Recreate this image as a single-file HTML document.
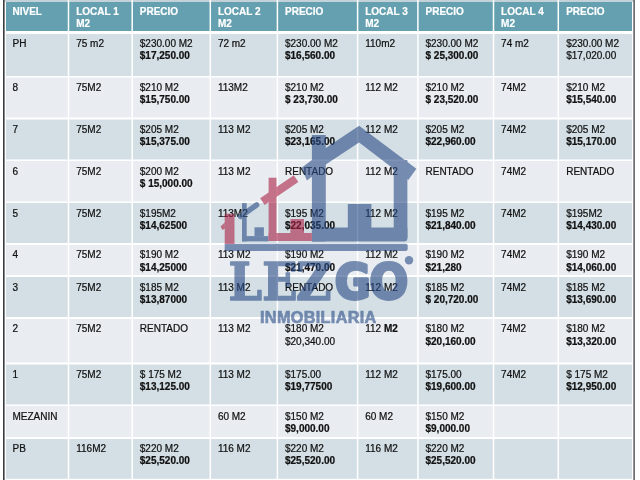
<!DOCTYPE html>
<html><head><meta charset="utf-8"><title>Precios</title>
<style>
html,body{margin:0;padding:0;background:#fff;}
body{width:640px;height:480px;position:relative;overflow:hidden;font-family:"Liberation Sans",Arial,sans-serif;}
.grid,.logo{position:absolute;left:0;top:0;}
.logo{opacity:0.6;}
#w{position:absolute;left:0;top:0;width:640px;height:480px;filter:blur(0.35px);}
.c,.h{position:absolute;font-size:10px;line-height:12.4px;white-space:nowrap;color:#111;}
.c{-webkit-text-stroke:0.22px #111;}
.h{color:#fff;font-weight:bold;-webkit-text-stroke:0.2px #fff;}
</style></head><body><div id="w">
<svg class="grid" width="640" height="480" viewBox="0 0 640 480">
<rect x="4.6" y="0" width="629.1" height="2" fill="#c3d2d8"/>
<rect x="6" y="2" width="626" height="29" fill="rgb(101,160,176)"/>
<rect x="6" y="34" width="626" height="42" fill="#d4dfe5"/>
<rect x="6" y="77.5" width="626" height="40" fill="#e9edf1"/>
<rect x="6" y="119.5" width="626" height="40" fill="#d4dfe5"/>
<rect x="6" y="161" width="626" height="40.5" fill="#e9edf1"/>
<rect x="6" y="203" width="626" height="40" fill="#d4dfe5"/>
<rect x="6" y="245" width="626" height="30" fill="#e9edf1"/>
<rect x="6" y="277" width="626" height="40" fill="#d4dfe5"/>
<rect x="6" y="319" width="626" height="43.5" fill="#e9edf1"/>
<rect x="6" y="364.5" width="626" height="40" fill="#d4dfe5"/>
<rect x="6" y="406" width="626" height="31" fill="#e9edf1"/>
<rect x="6" y="439" width="626" height="39.8" fill="#d4dfe5"/>
<rect x="67.75" y="0" width="1.5" height="480" fill="#fff"/>
<rect x="131.45" y="0" width="1.5" height="480" fill="#fff"/>
<rect x="209.55" y="0" width="1.5" height="480" fill="#fff"/>
<rect x="276.65" y="0" width="1.5" height="480" fill="#fff"/>
<rect x="356.85" y="0" width="1.5" height="480" fill="#fff"/>
<rect x="417.15" y="0" width="1.5" height="480" fill="#fff"/>
<rect x="492.75" y="0" width="1.5" height="480" fill="#fff"/>
<rect x="557.55" y="0" width="1.5" height="480" fill="#fff"/>
<rect x="3" y="0" width="1.6" height="480" fill="#3a3d40"/>
<rect x="633.4" y="0" width="1.4" height="480" fill="#4a4d52"/>
</svg>
<div class="h" style="left:12.5px;top:5.7px">NIVEL</div>
<div class="h" style="left:76.2px;top:5.7px">LOCAL 1<br>M2</div>
<div class="h" style="left:139.8px;top:5.7px">PRECIO</div>
<div class="h" style="left:217.9px;top:5.7px">LOCAL 2<br>M2</div>
<div class="h" style="left:285px;top:5.7px">PRECIO</div>
<div class="h" style="left:365.2px;top:5.7px">LOCAL 3<br>M2</div>
<div class="h" style="left:425.5px;top:5.7px">PRECIO</div>
<div class="h" style="left:501.1px;top:5.7px">LOCAL 4<br>M2</div>
<div class="h" style="left:566.2px;top:5.7px">PRECIO</div>
<div class="c" style="left:12.5px;top:37.7px">PH</div>
<div class="c" style="left:76.2px;top:37.7px">75 m2</div>
<div class="c" style="left:139.8px;top:37.7px">$230.00 M2<br><b>$17,250.00</b></div>
<div class="c" style="left:217.9px;top:37.7px">72 m2</div>
<div class="c" style="left:285px;top:37.7px">$230.00 M2<br><b>$16,560.00</b></div>
<div class="c" style="left:365.2px;top:37.7px">110m2</div>
<div class="c" style="left:425.5px;top:37.7px">$230.00 M2<br><b>$ 25,300.00</b></div>
<div class="c" style="left:501.1px;top:37.7px">74 m2</div>
<div class="c" style="left:566.2px;top:37.7px">$230.00 M2<br>$17,020.00</div>
<div class="c" style="left:12.5px;top:82px">8</div>
<div class="c" style="left:76.2px;top:82px">75M2</div>
<div class="c" style="left:139.8px;top:82px">$210 M2<br><b>$15,750.00</b></div>
<div class="c" style="left:217.9px;top:82px">113M2</div>
<div class="c" style="left:285px;top:82px">$210 M2<br><b>$ 23,730.00</b></div>
<div class="c" style="left:365.2px;top:82px">112 M2</div>
<div class="c" style="left:425.5px;top:82px">$210 M2<br><b>$ 23,520.00</b></div>
<div class="c" style="left:501.1px;top:82px">74M2</div>
<div class="c" style="left:566.2px;top:82px">$210 M2<br><b>$15,540.00</b></div>
<div class="c" style="left:12.5px;top:123.8px">7</div>
<div class="c" style="left:76.2px;top:123.8px">75M2</div>
<div class="c" style="left:139.8px;top:123.8px">$205 M2<br><b>$15,375.00</b></div>
<div class="c" style="left:217.9px;top:123.8px">113 M2</div>
<div class="c" style="left:285px;top:123.8px">$205 M2<br><b>$23,165.00</b></div>
<div class="c" style="left:365.2px;top:123.8px">112 M2</div>
<div class="c" style="left:425.5px;top:123.8px">$205 M2<br><b>$22,960.00</b></div>
<div class="c" style="left:501.1px;top:123.8px">74M2</div>
<div class="c" style="left:566.2px;top:123.8px">$205 M2<br><b>$15,170.00</b></div>
<div class="c" style="left:12.5px;top:165.8px">6</div>
<div class="c" style="left:76.2px;top:165.8px">75M2</div>
<div class="c" style="left:139.8px;top:165.8px">$200 M2<br><b>$ 15,000.00</b></div>
<div class="c" style="left:217.9px;top:165.8px">113 M2</div>
<div class="c" style="left:285px;top:165.8px">RENTADO</div>
<div class="c" style="left:365.2px;top:165.8px">112 M2</div>
<div class="c" style="left:425.5px;top:165.8px">RENTADO</div>
<div class="c" style="left:501.1px;top:165.8px">74M2</div>
<div class="c" style="left:566.2px;top:165.8px">RENTADO</div>
<div class="c" style="left:12.5px;top:207.8px">5</div>
<div class="c" style="left:76.2px;top:207.8px">75M2</div>
<div class="c" style="left:139.8px;top:207.8px">$195M2<br><b>$14,62500</b></div>
<div class="c" style="left:217.9px;top:207.8px">113M2</div>
<div class="c" style="left:285px;top:207.8px">$195 M2<br><b>$22,035.00</b></div>
<div class="c" style="left:365.2px;top:207.8px">112 M2</div>
<div class="c" style="left:425.5px;top:207.8px">$195 M2<br><b>$21,840.00</b></div>
<div class="c" style="left:501.1px;top:207.8px">74M2</div>
<div class="c" style="left:566.2px;top:207.8px">$195M2<br><b>$14,430.00</b></div>
<div class="c" style="left:12.5px;top:249.2px">4</div>
<div class="c" style="left:76.2px;top:249.2px">75M2</div>
<div class="c" style="left:139.8px;top:249.2px">$190 M2<br><b>$14,25000</b></div>
<div class="c" style="left:217.9px;top:249.2px">113 M2</div>
<div class="c" style="left:285px;top:249.2px">$190 M2<br><b>$21,470.00</b></div>
<div class="c" style="left:365.2px;top:249.2px">112 M2</div>
<div class="c" style="left:425.5px;top:249.2px">$190 M2<br><b>$21,280</b></div>
<div class="c" style="left:501.1px;top:249.2px">74M2</div>
<div class="c" style="left:566.2px;top:249.2px">$190 M2<br><b>$14,060.00</b></div>
<div class="c" style="left:12.5px;top:282px">3</div>
<div class="c" style="left:76.2px;top:282px">75M2</div>
<div class="c" style="left:139.8px;top:282px">$185 M2<br><b>$13,87000</b></div>
<div class="c" style="left:217.9px;top:282px">113 M2</div>
<div class="c" style="left:285px;top:282px">RENTADO</div>
<div class="c" style="left:365.2px;top:282px">112 M2</div>
<div class="c" style="left:425.5px;top:282px">$185 M2<br><b>$ 20,720.00</b></div>
<div class="c" style="left:501.1px;top:282px">74M2</div>
<div class="c" style="left:566.2px;top:282px">$185 M2<br><b>$13,690.00</b></div>
<div class="c" style="left:12.5px;top:323.2px">2</div>
<div class="c" style="left:76.2px;top:323.2px">75M2</div>
<div class="c" style="left:139.8px;top:323.2px">RENTADO</div>
<div class="c" style="left:217.9px;top:323.2px">113 M2</div>
<div class="c" style="left:285px;top:323.2px">$180 M2<br>$20,340.00</div>
<div class="c" style="left:365.2px;top:323.2px">112 <b>M2</b></div>
<div class="c" style="left:425.5px;top:323.2px">$180 M2<br><b>$20,160.00</b></div>
<div class="c" style="left:501.1px;top:323.2px">74M2</div>
<div class="c" style="left:566.2px;top:323.2px">$180 M2<br><b>$13,320.00</b></div>
<div class="c" style="left:12.5px;top:368.5px">1</div>
<div class="c" style="left:76.2px;top:368.5px">75M2</div>
<div class="c" style="left:139.8px;top:368.5px">$ 175 M2<br><b>$13,125.00</b></div>
<div class="c" style="left:217.9px;top:368.5px">113 M2</div>
<div class="c" style="left:285px;top:368.5px">$175.00<br><b>$19,77500</b></div>
<div class="c" style="left:365.2px;top:368.5px">112 M2</div>
<div class="c" style="left:425.5px;top:368.5px">$175.00<br><b>$19,600.00</b></div>
<div class="c" style="left:501.1px;top:368.5px">74M2</div>
<div class="c" style="left:566.2px;top:368.5px">$ 175 M2<br><b>$12,950.00</b></div>
<div class="c" style="left:12.5px;top:410.9px">MEZANIN</div>
<div class="c" style="left:217.9px;top:410.9px">60 M2</div>
<div class="c" style="left:285px;top:410.9px">$150 M2<br><b>$9,000.00</b></div>
<div class="c" style="left:365.2px;top:410.9px">60 M2</div>
<div class="c" style="left:425.5px;top:410.9px">$150 M2<br><b>$9,000.00</b></div>
<div class="c" style="left:12.5px;top:442.9px">PB</div>
<div class="c" style="left:76.2px;top:442.9px">116M2</div>
<div class="c" style="left:139.8px;top:442.9px">$220 M2<br><b>$25,520.00</b></div>
<div class="c" style="left:217.9px;top:442.9px">116 M2</div>
<div class="c" style="left:285px;top:442.9px">$220 M2<br><b>$25,520.00</b></div>
<div class="c" style="left:365.2px;top:442.9px">116 M2</div>
<div class="c" style="left:425.5px;top:442.9px">$220 M2<br><b>$25,520.00</b></div>
<svg class="logo" width="640" height="480" viewBox="0 0 640 480">
<g fill="rgb(41,75,133)">
 <path d="M359.1 125.8 L416.4 168.7 L408.3 179.9 L359.1 142.5 L325.8 164.6 L312.2 176.6 L306.9 180.6 L301.6 167.8 L311.6 160.3 L325.8 147.9 Z"/>
 <rect x="311.9" y="135" width="13.9" height="106.5"/>
 <rect x="393.7" y="160" width="13.7" height="78"/>
 <path d="M311.9 227.5 H407.4 V238.3 Q407.4 241.5 404.2 241.5 H311.9 Z"/>
 <rect x="347.8" y="204" width="23.6" height="24"/>
 <!-- small blue house -->
 <path d="M240.6 216.4 L256.6 204.9" fill="none" stroke="rgb(41,75,133)" stroke-width="5.6" stroke-linecap="round"/>
 <rect x="242" y="203.1" width="4.7" height="38.3"/>
 <rect x="242" y="236.1" width="26.6" height="5.3"/>
 <rect x="254.5" y="227.3" width="9.4" height="9"/>
 <!-- ground bar -->
 <path d="M224.7 243.8 H405.7 Q407.7 243.8 407.7 245.8 V249 Q407.7 251 405.7 251 H224.7 Z"/>
 <circle cx="409" cy="260.3" r="4.2"/>
</g>
<g fill="rgb(172,34,70)">
 <path d="M262.4 201.6 L296.1 178.6" fill="none" stroke="rgb(172,34,70)" stroke-width="8"/>
 <rect x="268.6" y="177.7" width="7.9" height="63.3"/>
 <rect x="268.6" y="233" width="43.3" height="8"/>
 <rect x="290.4" y="219" width="13.6" height="14.2"/>
 <rect x="224.7" y="213.7" width="9.8" height="30.3"/>
 <path d="M224.9 222.3 L220.6 226.6 L222.3 230 L224.9 228.8 Z"/>
</g>
<g fill="rgb(41,75,133)" font-family="DejaVu Serif Condensed, DejaVu Serif, serif" font-weight="bold" font-size="53" stroke="rgb(41,75,133)" stroke-width="1.5" stroke-linejoin="round">
 <text transform="translate(228.5 300) scale(1 1)">L</text>
 <text transform="translate(262.3 300) scale(0.97 1)">E</text>
 <text transform="translate(296 300) scale(1.02 1)">Z</text>
</g>
<g fill="rgb(41,75,133)" font-family="DejaVu Sans Condensed, DejaVu Sans, sans-serif" font-weight="bold" font-size="50.6" stroke="rgb(41,75,133)" stroke-width="3" stroke-linejoin="round">
 <text transform="translate(334.8 299.2) scale(0.96 1)">G</text>
 <text transform="translate(369.5 299.2)">O</text>
</g>
<text x="260" y="323" fill="rgb(41,75,133)" stroke="rgb(41,75,133)" stroke-width="0.7" font-family="Liberation Sans, sans-serif" font-weight="bold" font-size="16.2" letter-spacing="0.35">INMOBILIARIA</text>
</svg>
</div></body></html>
